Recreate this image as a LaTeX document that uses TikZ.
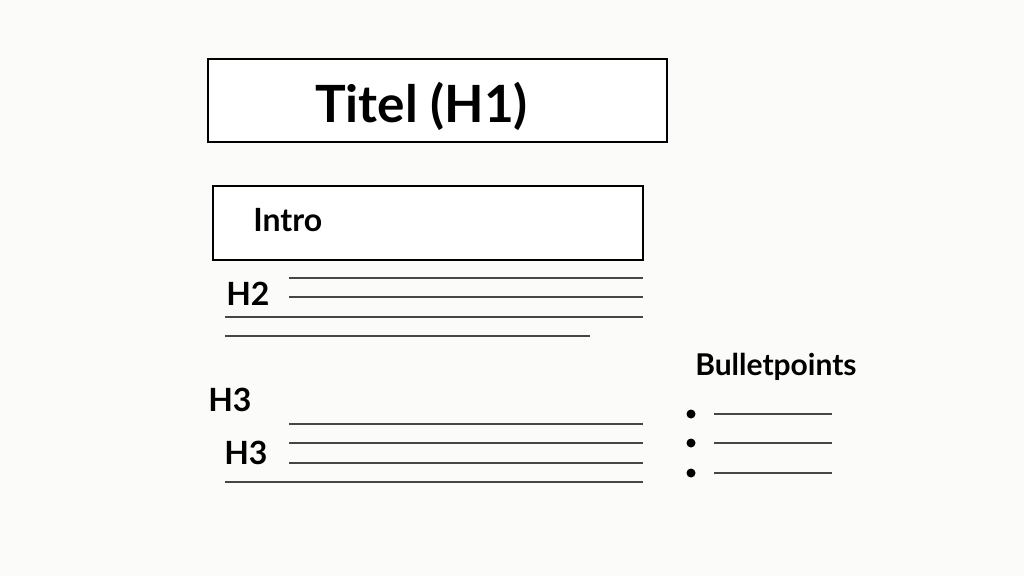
\documentclass[tikz,border=0pt]{standalone}
\usepackage{fontspec}
\setmainfont{Lato}
\definecolor{paper}{RGB}{251,251,249}
\definecolor{rulegray}{RGB}{70,70,70}
\begin{document}
\begin{tikzpicture}[x=0.75pt,y=0.75pt,yscale=-1,xscale=1,
    frame/.style={draw=black, line width=1.5pt},
    rule/.style={draw=rulegray, line width=1.1pt},
    head/.style={anchor=base west, inner sep=0pt, font=\bfseries\fontsize{24pt}{28pt}\selectfont}]
        \useasboundingbox [fill=paper] (0,0) rectangle (1024,576);
        % boxes
        \draw [frame, fill=white] (208,59) rectangle (667,142);
        \draw [frame, fill=white] (213,186) rectangle (643,260);
        \node (titel) [head, font=\bfseries\fontsize{38.5pt}{44pt}\selectfont] at (315,122) {Titel (H1)};
        \node (intro) [head] at (253,231) {Intro};
        % H2 block
        \node (htwo) [head] at (226,305) {H2};
        \draw [rule] (289,278) -- (643,278);
        \draw [rule] (289,297) -- (643,297);
        \draw [rule] (225,317) -- (643,317);
        \draw [rule] (225,336) -- (590,336);
        % H3 block
        \node (hthreea) [head] at (208,411) {H3};
        \node (hthreeb) [head] at (224,464) {H3};
        \draw [rule] (289,424) -- (643,424);
        \draw [rule] (289,443) -- (643,443);
        \draw [rule] (289,463) -- (643,463);
        \draw [rule] (225,482) -- (643,482);
        % bullet list
        \node (bullets) [head, font=\bfseries\fontsize{22.5pt}{26pt}\selectfont] at (695,375) {Bulletpoints};
        \foreach \y in {414,443,473} {
            \fill (691,\y) circle [radius=4.5];
            \draw [rule] (714,\y) -- (832,\y);
        }
\end{tikzpicture}
\end{document}
